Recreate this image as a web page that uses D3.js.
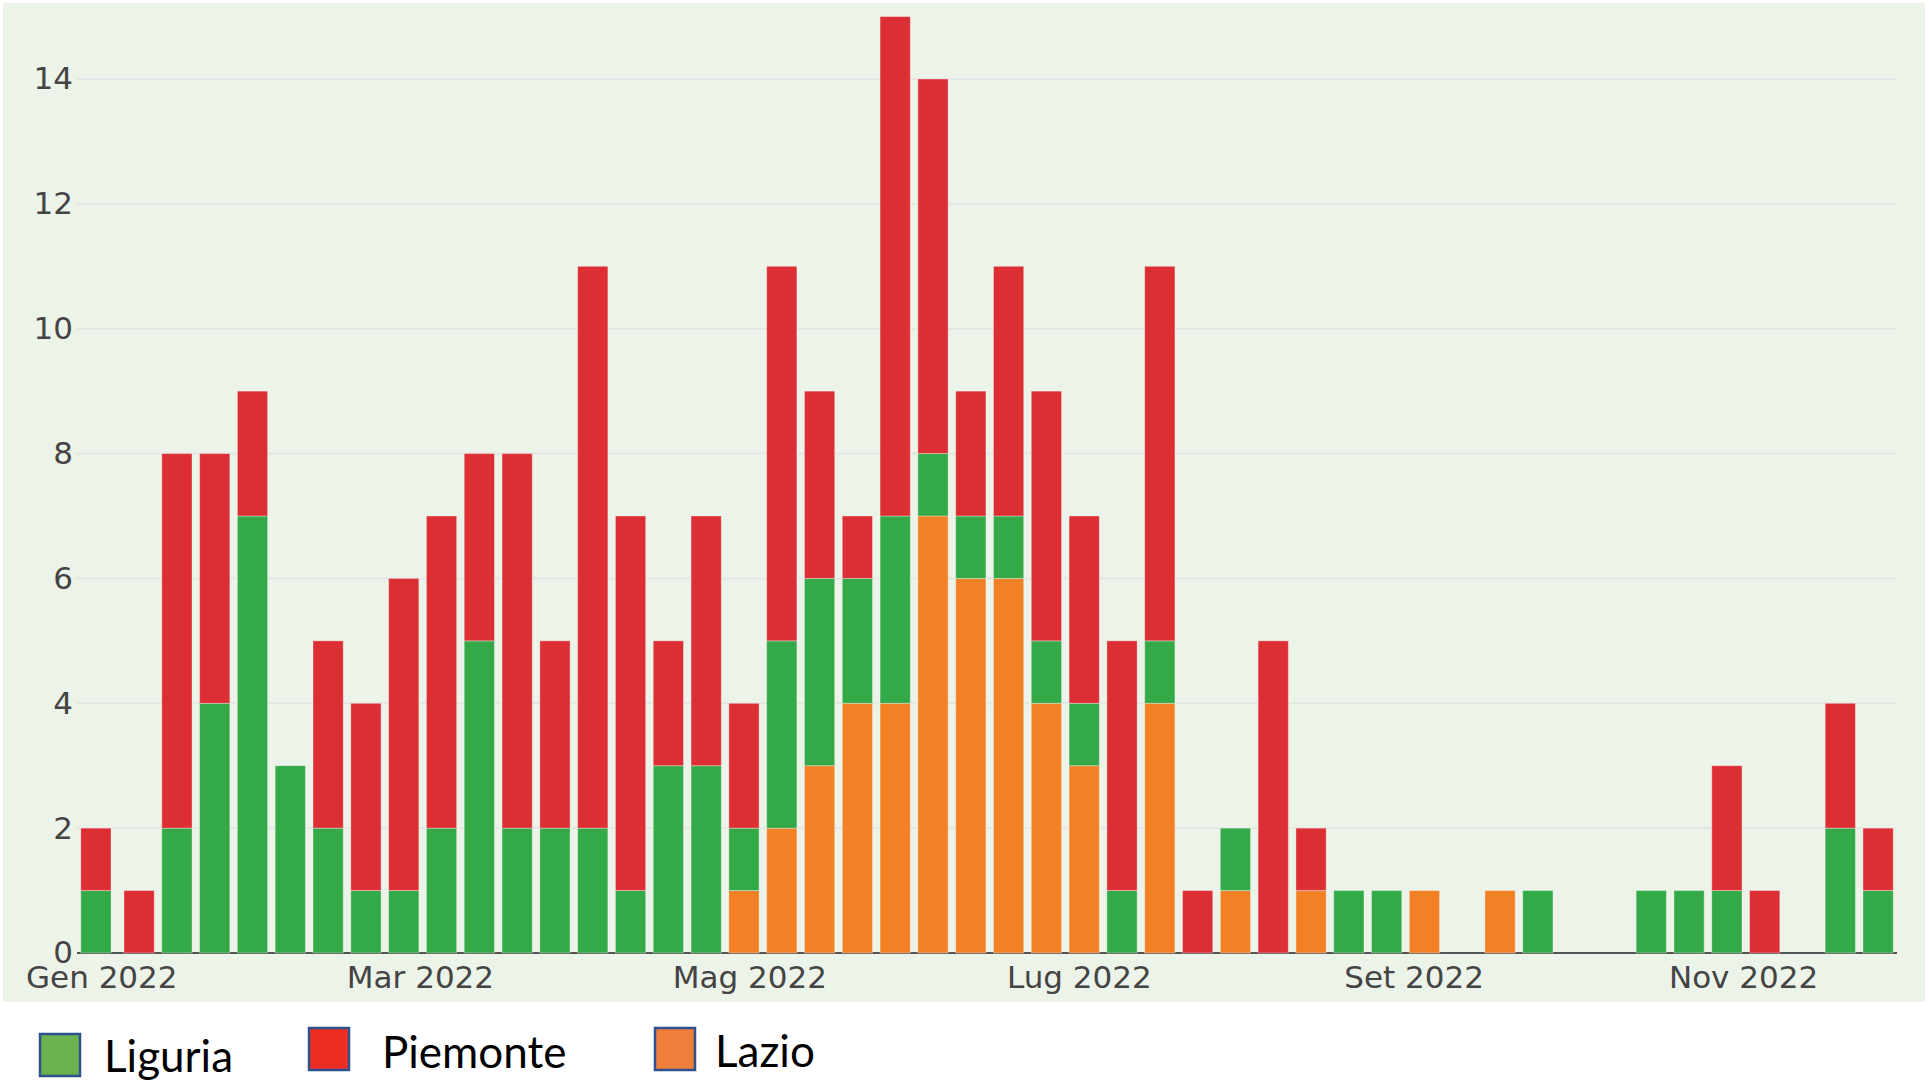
<!DOCTYPE html>
<meta charset="utf-8">
<style>
body {
  margin: 0;
  background: #fff;
}
.chart text {
  font-family: "DejaVu Sans", Verdana, sans-serif;
  font-size: 31px;
  fill: #444;
}
.grid line {
  stroke: #e4e6e6;
  stroke-width: 2;
}
.zero {
  stroke: #555;
  stroke-width: 2;
}
.legend text {
  font-family: Lato, sans-serif;
  font-size: 44px;
  fill: #000;
}
.legend rect {
  stroke: #2f528f;
  stroke-width: 2.5;
}
</style>
<svg class="chart"></svg>
<script src="https://d3js.org/d3.v7.min.js"></script>
<script>

// weekly counts
var weeks = ["2021-12-31","2022-01-08","2022-01-15","2022-01-22","2022-01-29","2022-02-05","2022-02-12",
  "2022-02-19","2022-02-26","2022-03-05","2022-03-12","2022-03-19","2022-03-26","2022-04-02","2022-04-09",
  "2022-04-16","2022-04-23","2022-04-30","2022-05-07","2022-05-14","2022-05-21","2022-05-28","2022-06-04",
  "2022-06-11","2022-06-18","2022-06-25","2022-07-02","2022-07-09","2022-07-16","2022-07-23","2022-07-30",
  "2022-08-06","2022-08-13","2022-08-20","2022-08-27","2022-09-03","2022-09-10","2022-09-17","2022-09-24",
  "2022-10-01","2022-10-08","2022-10-15","2022-10-22","2022-10-29","2022-11-05","2022-11-12","2022-11-19",
  "2022-11-26"];
var lazio    = [0,0,0,0,0,0,0,0,0,0,0,0,0,0,0,0,0,1,2,3,4,4,7,6,6,4,3,0,4,0,1,0,1,0,0,1,0,1,0,0,0,0,0,0,0,0,0,0];
var liguria  = [1,0,2,4,7,3,2,1,1,2,5,2,2,2,1,3,3,1,3,3,2,3,1,1,1,1,1,1,1,0,1,0,0,1,1,0,0,0,1,0,0,1,1,1,0,0,2,1];
var piemonte = [1,1,6,4,2,0,3,3,5,5,3,6,3,9,6,2,4,2,6,3,1,8,6,2,4,4,3,4,6,1,0,5,1,0,0,0,0,0,0,0,0,0,0,2,1,0,2,1];

var series = ["lazio", "liguria", "piemonte"];
var barColors = ["#f28025", "#34a947", "#dc2f34"];

var monthTicks = ["2022-01-01","2022-03-01","2022-05-01","2022-07-01","2022-09-01","2022-11-01"];
var monthLabels = ["Gen 2022","Mar 2022","Mag 2022","Lug 2022","Set 2022","Nov 2022"];
var yTicks = [0, 2, 4, 6, 8, 10, 12, 14];

var legendNames = ["Liguria", "Piemonte", "Lazio"];
var legendColors = ["#6ab150", "#ee2e24", "#ee7f3a"];

var W = 1929, H = 1081;
var plot = {left: 77, right: 1897, top: 79, bottom: 953};
var DAY = 864e5;

var parse = d3.utcParse("%Y-%m-%d");
var data = weeks.map(function(w, i){
  return {date: parse(w), lazio: lazio[i], liguria: liguria[i], piemonte: piemonte[i]};
});

var svg = d3.select(".chart")
  .attr("width", W)
  .attr("height", H);

svg.append("rect")
  .attr("x", 3).attr("y", 3)
  .attr("width", 1922).attr("height", 999)
  .attr("fill", "#ecf3e8");

var first = data[0].date, last = data[data.length-1].date;
var x = d3.scaleUtc()
  .domain([new Date(+first - 3.5*DAY), new Date(+last + 3.5*DAY)])
  .range([plot.left, plot.right]);
var y = d3.scaleLinear()
  .domain([0, 14])
  .range([plot.bottom, plot.top]);

var barW = x(new Date(+first + 7*DAY*0.8)) - x(first);

// grid
svg.append("g")
  .attr("class", "grid")
  .selectAll("line")
  .data(yTicks.filter(function(d){ return d > 0; }))
  .enter().append("line")
    .attr("x1", plot.left).attr("x2", plot.right)
    .attr("y1", function(d){ return y(d); })
    .attr("y2", function(d){ return y(d); });

svg.append("line")
  .attr("class", "zero")
  .attr("x1", plot.left).attr("x2", plot.right)
  .attr("y1", y(0)).attr("y2", y(0));

// bars
var stack = d3.stack().keys(series)(data);

svg.append("g")
  .selectAll("g")
  .data(stack)
  .enter().append("g")
    .attr("fill", function(d, i){ return barColors[i]; })
  .selectAll("rect")
  .data(function(d){ return d.filter(function(p){ return p[1] > p[0]; }); })
  .enter().append("rect")
    .attr("x", function(d){ return x(d.data.date) - barW/2; })
    .attr("y", function(d){ return y(d[1]); })
    .attr("width", barW)
    .attr("height", function(d){ return y(d[0]) - y(d[1]); })
    .attr("stroke", "rgba(255,255,255,0.35)")
    .attr("stroke-width", 1);

// axes
var xAxis = d3.axisBottom(x)
  .tickValues(monthTicks.map(parse))
  .tickFormat(function(d, i){ return monthLabels[i]; })
  .tickSize(0)
  .tickPadding(13);

svg.append("g")
  .attr("transform", "translate(0," + plot.bottom + ")")
  .call(xAxis)
  .call(function(g){ g.select(".domain").remove(); })
  .selectAll("text")
    .attr("fill", "#444")
    .style("font-size", "31px")
    .style("font-family", '"DejaVu Sans", Verdana, sans-serif');

var yAxis = d3.axisLeft(y)
  .tickValues(yTicks)
  .tickSize(0)
  .tickPadding(4);

svg.append("g")
  .attr("transform", "translate(" + plot.left + ",0)")
  .call(yAxis)
  .call(function(g){ g.select(".domain").remove(); })
  .selectAll("text")
    .attr("fill", "#444")
    .style("font-size", "31px")
    .style("font-family", '"DejaVu Sans", Verdana, sans-serif');

// legend
var legendPos = [{sx: 40, sy: 1034, tx: 104, ty: 1072},
                 {sx: 309, sy: 1028, tx: 382, ty: 1068},
                 {sx: 655, sy: 1028, tx: 715, ty: 1067}];

var legend = svg.append("g").attr("class", "legend");
legend.selectAll("rect")
  .data(legendNames)
  .enter().append("rect")
    .attr("x", function(d, i){ return legendPos[i].sx; })
    .attr("y", function(d, i){ return legendPos[i].sy; })
    .attr("width", 40)
    .attr("height", 42)
    .attr("fill", function(d, i){ return legendColors[i]; });
legend.selectAll("text")
  .data(legendNames)
  .enter().append("text")
    .attr("x", function(d, i){ return legendPos[i].tx; })
    .attr("y", function(d, i){ return legendPos[i].ty; })
    .text(function(d){ return d; });

</script>
